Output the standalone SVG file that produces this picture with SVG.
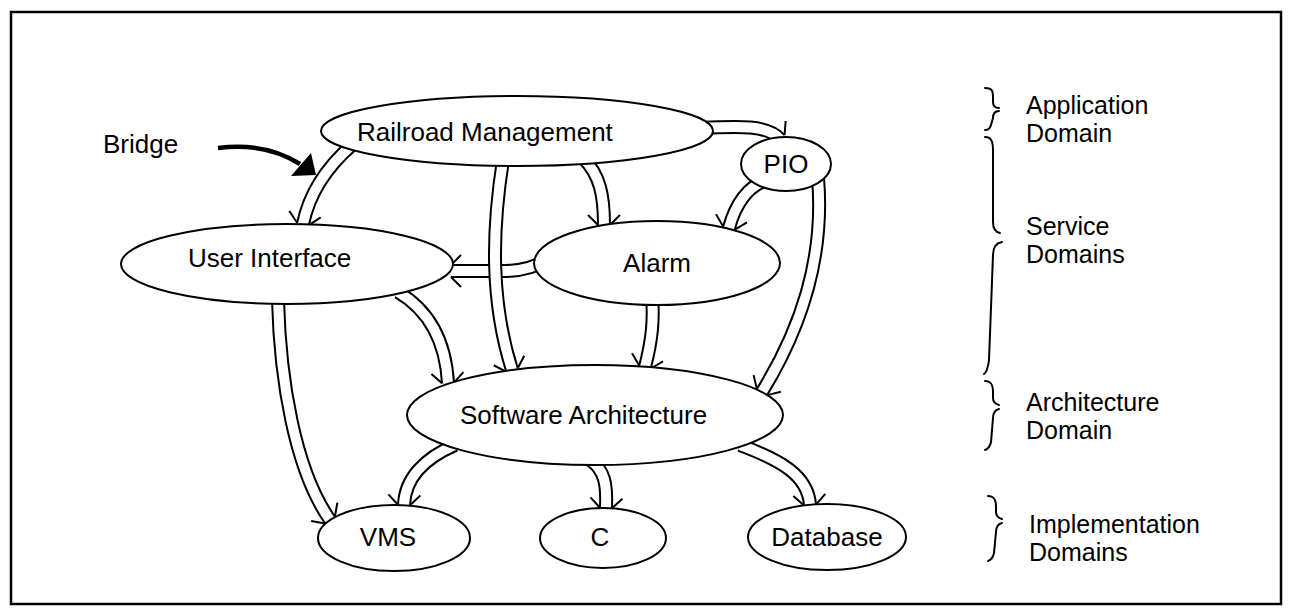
<svg xmlns="http://www.w3.org/2000/svg" width="1293" height="616" viewBox="0 0 1293 616">
<defs>
<style>
.frame{fill:#fff;stroke:#000;stroke-width:2.5}
.node ellipse{fill:#fff;stroke:#000;stroke-width:2}
text{font-family:"Liberation Sans",Arial,Helvetica,sans-serif;font-size:26px;fill:#000}
.dom{font-size:25px}
.mid{text-anchor:middle}
.o{fill:none;stroke:#000;stroke-width:14;marker-end:url(#barb)}
.i{fill:none;stroke:#fff;stroke-width:10}
.brace{fill:none;stroke:#000;stroke-width:2;stroke-linecap:round}
</style>
<marker id="barb" markerUnits="userSpaceOnUse" orient="auto" viewBox="-20 -20 40 40" markerWidth="40" markerHeight="40" refX="0" refY="0" overflow="visible">
<path d="M-10,-16 L0,-6 M-10,16 L0,6" fill="none" stroke="#000" stroke-width="2"/>
</marker>
</defs>
<rect x="0" y="0" width="1293" height="616" fill="#fff"/>
<rect class="frame" x="11" y="12" width="1270" height="592"/>

<g id="connectors">
<g id="alarm-ui"><path class="o" d="M550,258 Q530,271 505,271 L451,271"/><path class="i" d="M550,258 Q530,271 505,271 L451,271"/></g>
<g id="rm-ui"><path class="o" d="M352,145 Q312,180 303,224"/><path class="i" d="M352,145 Q312,180 303,224"/></g>
<g id="rm-alarm"><path class="o" d="M583,158 C600,175 604,195 604,225"/><path class="i" d="M583,158 C600,175 604,195 604,225"/></g>
<g id="rm-sa"><path class="o" d="M503,160 C492,230 490,300 512,370"/><path class="i" d="M503,160 C492,230 490,300 512,370"/></g>
<g id="rm-pio"><path class="o" d="M700,128 C740,126 768,125 780,139"/><path class="i" d="M700,128 C740,126 768,125 780,139"/></g>
<g id="pio-alarm"><path class="o" d="M768,180 C748,185 735,205 729,228"/><path class="i" d="M768,180 C748,185 735,205 729,228"/></g>
<g id="pio-sa"><path class="o" d="M818,178 C825,260 800,330 762,392"/><path class="i" d="M818,178 C825,260 800,330 762,392"/></g>
<g id="alarm-sa"><path class="o" d="M652,295 C654,320 652,340 645,367"/><path class="i" d="M652,295 C654,320 652,340 645,367"/></g>
<g id="ui-sa"><path class="o" d="M398,292 C420,305 445,330 448,383"/><path class="i" d="M398,292 C420,305 445,330 448,383"/></g>
<g id="ui-vms"><path class="o" d="M278,300 C280,380 295,470 330,520"/><path class="i" d="M278,300 C280,380 295,470 330,520"/></g>
<g id="sa-vms"><path class="o" d="M455,445 C425,458 405,478 404,505"/><path class="i" d="M455,445 C425,458 405,478 404,505"/></g>
<g id="sa-c"><path class="o" d="M590,460 C605,470 607,485 606,508"/><path class="i" d="M590,460 C605,470 607,485 606,508"/></g>
<g id="sa-db"><path class="o" d="M740,445 C780,460 808,475 810,505"/><path class="i" d="M740,445 C780,460 808,475 810,505"/></g>
</g>

<g id="node-rm" class="node"><ellipse cx="517" cy="131" rx="196" ry="35"/><text x="357" y="141">Railroad Management</text></g>
<g id="node-pio" class="node"><ellipse cx="786" cy="164" rx="45" ry="27"/><text class="mid" x="786" y="173">PIO</text></g>
<g id="node-ui" class="node"><ellipse cx="287" cy="264" rx="166" ry="40"/><text x="188" y="267">User Interface</text></g>
<g id="node-alarm" class="node"><ellipse cx="657" cy="263" rx="123" ry="42"/><text class="mid" x="657" y="272">Alarm</text></g>
<g id="node-sa" class="node"><ellipse cx="595" cy="415" rx="188" ry="50"/><text x="460" y="424">Software Architecture</text></g>
<g id="node-vms" class="node"><ellipse cx="394" cy="538" rx="76" ry="33"/><text class="mid" x="388" y="546">VMS</text></g>
<g id="node-c" class="node"><ellipse cx="603" cy="538" rx="63" ry="30"/><text class="mid" x="600" y="546">C</text></g>
<g id="node-db" class="node"><ellipse cx="827" cy="537" rx="79" ry="33"/><text class="mid" x="827" y="546">Database</text></g>

<g id="bridge-label">
<text x="103" y="153">Bridge</text>
<path d="M218,148 Q265,142 300,164" fill="none" stroke="#000" stroke-width="4.5"/>
<polygon points="316,175 291,176 311,153" fill="#000"/>
</g>

<g id="domains">
<path class="brace" d="M985,88 C993,88 993,92 993,98 L993,102 C993,106 995,108 999,108"/>
<path class="brace" d="M999,111 C995,111 993,114 993,118 L991,125 C990,129 988,130 985,130"/>
<text class="dom" x="1026" y="114">Application</text><text class="dom" x="1026" y="142">Domain</text>
<path class="brace" d="M985,137 C992,137 993,143 993,150 L993,222 C993,229 995,232 1000,233"/>
<path class="brace" d="M1002,242 C996,243 993,247 993,255 L989,360 C988,368 987,372 984,374"/>
<text class="dom" x="1026" y="235">Service</text><text class="dom" x="1026" y="263">Domains</text>
<path class="brace" d="M985,381 C992,381 993,386 993,392 L993,398 C993,402 995,404 999,405"/>
<path class="brace" d="M999,409 C995,410 993,413 993,418 L991,442 C990,447 988,449 985,450"/>
<text class="dom" x="1026" y="411">Architecture</text><text class="dom" x="1026" y="439">Domain</text>
<path class="brace" d="M988,496 C995,496 996,501 996,507 L996,512 C996,516 998,518 1002,519"/>
<path class="brace" d="M1002,523 C998,524 996,527 996,532 L994,553 C993,558 991,560 988,561"/>
<text class="dom" x="1029" y="533">Implementation</text><text class="dom" x="1029" y="561">Domains</text>
</g>
</svg>
